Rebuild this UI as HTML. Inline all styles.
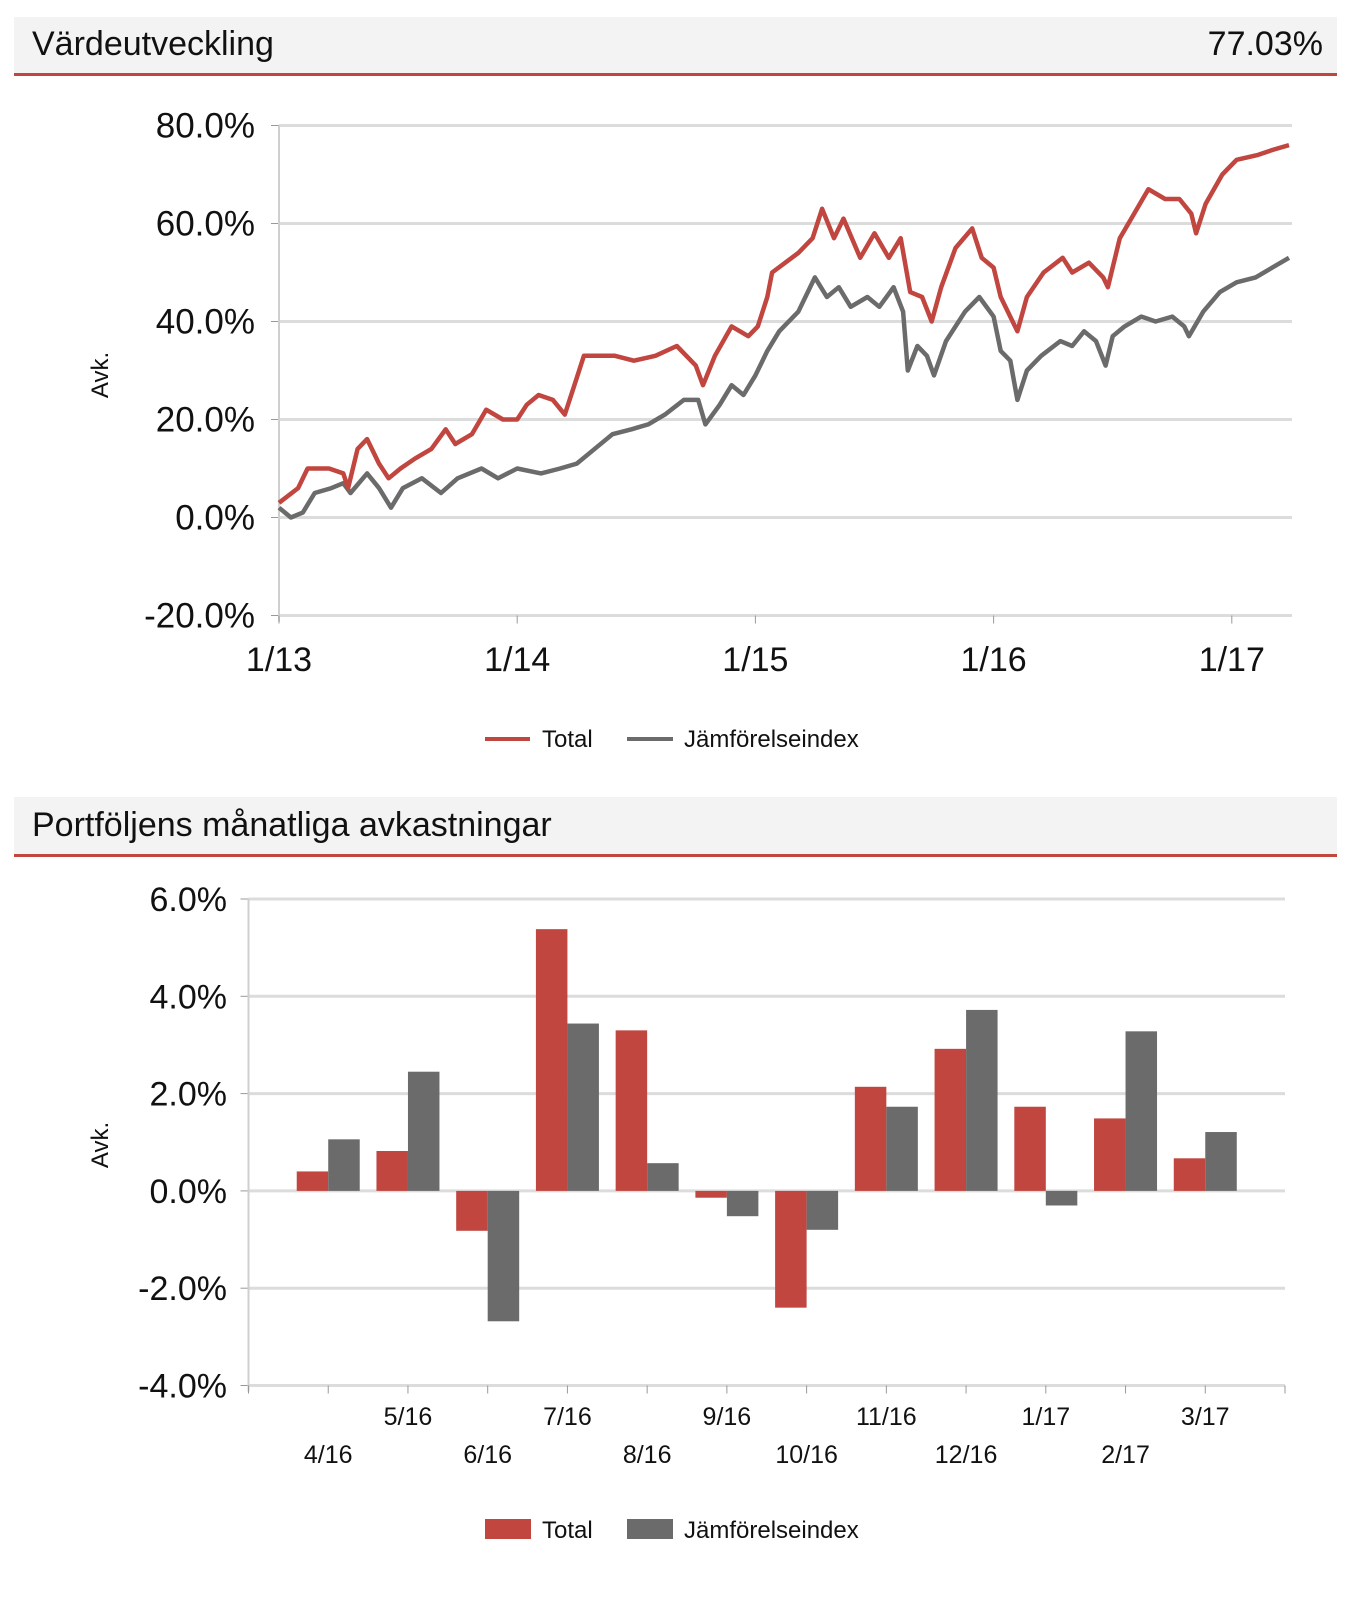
<!DOCTYPE html>
<html><head><meta charset="utf-8"><style>
html,body{margin:0;padding:0;background:#fff;}
svg{display:block;font-family:"Liberation Sans",sans-serif;}
</style></head><body>
<svg id="root" width="1346" height="1604" viewBox="0 0 1346 1604">
  <g>
    <rect x="14" y="17" width="1323" height="56" fill="#f3f3f3"/>
    <rect x="14" y="73" width="1323" height="3" fill="#c0463f"/>
    <text x="32" y="55" font-size="34" fill="#111">Värdeutveckling</text>
    <text x="1323" y="55" font-size="34" fill="#111" text-anchor="end">77.03%</text>
  </g>
  <g id="chart1"></g>
  <g>
    <rect x="14" y="797" width="1323" height="57" fill="#f3f3f3"/>
    <rect x="14" y="854" width="1323" height="3" fill="#c0463f"/>
    <text x="32" y="836" font-size="34" fill="#111">Portföljens månatliga avkastningar</text>
  </g>
  <g id="chart2"></g>
</svg>
<script>
const lineYTicks = [-20, 0, 20, 40, 60, 80];
const lineYTickLabels = ["-20.0%","0.0%","20.0%","40.0%","60.0%","80.0%"];
const lineXTicks = [2013, 2014, 2015, 2016, 2017];
const lineXTickLabels = ["1/13","1/14","1/15","1/16","1/17"];
const totalDates = [2013.0,2013.08,2013.12,2013.21,2013.27,2013.29,2013.33,2013.37,2013.42,2013.46,2013.51,2013.57,2013.64,2013.7,2013.74,2013.81,2013.87,2013.94,2014.0,2014.04,2014.09,2014.15,2014.2,2014.24,2014.28,2014.41,2014.49,2014.58,2014.67,2014.75,2014.78,2014.83,2014.9,2014.97,2015.01,2015.05,2015.07,2015.18,2015.24,2015.28,2015.33,2015.37,2015.44,2015.5,2015.56,2015.61,2015.65,2015.7,2015.74,2015.78,2015.84,2015.91,2015.95,2016.0,2016.03,2016.1,2016.14,2016.21,2016.29,2016.33,2016.4,2016.46,2016.48,2016.53,2016.59,2016.65,2016.72,2016.78,2016.83,2016.85,2016.89,2016.96,2017.02,2017.11,2017.17,2017.24];
const totalValues = [3,6,10,10,9,6,14,16,11,8,10,12,14,18,15,17,22,20,20,23,25,24,21,27,33,33,32,33,35,31,27,33,39,37,39,45,50,54,57,63,57,61,53,58,53,57,46,45,40,47,55,59,53,51,45,38,45,50,53,50,52,49,47,57,62,67,65,65,62,58,64,70,73,74,75,76];
const indexDates = [2013.0,2013.05,2013.1,2013.15,2013.22,2013.27,2013.3,2013.37,2013.42,2013.47,2013.52,2013.6,2013.68,2013.75,2013.85,2013.92,2014.0,2014.1,2014.18,2014.25,2014.3,2014.4,2014.48,2014.55,2014.62,2014.7,2014.76,2014.79,2014.85,2014.9,2014.95,2015.0,2015.05,2015.1,2015.18,2015.25,2015.3,2015.35,2015.4,2015.47,2015.52,2015.58,2015.62,2015.64,2015.68,2015.72,2015.75,2015.8,2015.88,2015.94,2016.0,2016.03,2016.07,2016.1,2016.14,2016.2,2016.28,2016.33,2016.38,2016.43,2016.47,2016.5,2016.55,2016.62,2016.68,2016.75,2016.8,2016.82,2016.88,2016.95,2017.02,2017.1,2017.17,2017.24];
const indexValues = [2,0,1,5,6,7,5,9,6,2,6,8,5,8,10,8,10,9,10,11,13,17,18,19,21,24,24,19,23,27,25,29,34,38,42,49,45,47,43,45,43,47,42,30,35,33,29,36,42,45,41,34,32,24,30,33,36,35,38,36,31,37,39,41,40,41,39,37,42,46,48,49,51,53];

const barCategories = ["4/16","5/16","6/16","7/16","8/16","9/16","10/16","11/16","12/16","1/17","2/17","3/17"];
const barTotal = [0.4,0.82,-0.82,5.38,3.3,-0.14,-2.4,2.14,2.92,1.73,1.49,0.67];
const barIndex = [1.06,2.45,-2.68,3.44,0.57,-0.52,-0.8,1.73,3.72,-0.3,3.28,1.21];
const barYTicks = [-4,-2,0,2,4,6];
const barYTickLabels = ["-4.0%","-2.0%","0.0%","2.0%","4.0%","6.0%"];

const NS = "http://www.w3.org/2000/svg";
function mk(parent, tag, attrs, txt){
  const e = document.createElementNS(NS, tag);
  for (const k in attrs) e.setAttribute(k, attrs[k]);
  if (txt !== undefined) e.textContent = txt;
  parent.appendChild(e);
  return e;
}
const RED = "#c0463f", GRAY = "#6b6b6b";

// ---- Chart 1 ----
(function(){
  const g = document.getElementById('chart1');
  const x0 = 279, x1 = 1292, yTop = 125.5, yBot = 615.5;
  const xs = t => x0 + (t - 2013) * 238.2;
  const ys = v => yBot - (v + 20) / 100 * (yBot - yTop);
  lineYTicks.forEach((v, i) => {
    const gl = mk(g, 'line', {x1: x0, x2: x1, y1: ys(v), y2: ys(v), stroke: '#dcdcdc', 'stroke-width': 3});
    
    
    mk(g, 'line', {x1: x0 - 8, x2: x0, y1: ys(v), y2: ys(v), stroke: '#999', 'stroke-width': 1});
    const t = mk(g, 'text', {x: 255, y: ys(v) + 12, 'font-size': 35, 'text-anchor': 'end', fill: '#111'}, lineYTickLabels[i]);
    
    
  });
  mk(g, 'line', {x1: x0, x2: x0, y1: yTop, y2: yBot + 6, stroke: '#cfcfcf', 'stroke-width': 2});
  lineXTicks.forEach((v, i) => {
    mk(g, 'line', {x1: xs(v), x2: xs(v), y1: yBot, y2: yBot + 8, stroke: '#999', 'stroke-width': 1});
    const t = mk(g, 'text', {x: xs(v), y: 671, 'font-size': 34, 'text-anchor': 'middle', fill: '#111'}, lineXTickLabels[i]);
    
    
  });
  const yl = mk(g, 'text', {x: 0, y: 0, 'font-size': 24, 'text-anchor': 'middle', fill: '#111', transform: 'translate(108,375) rotate(-90)'}, 'Avk.');
  
  
  function drawLine(dates, vals, color, name){
    const d = dates.map((t, i) => (i ? 'L' : 'M') + xs(t).toFixed(1) + ',' + ys(vals[i]).toFixed(1)).join(' ');
    const p = mk(g, 'path', {d: d, fill: 'none', stroke: color, 'stroke-width': 4.5, 'stroke-linejoin': 'round'});
    
    
  }
  drawLine(indexDates, indexValues, GRAY, 'index-line');
  drawLine(totalDates, totalValues, RED, 'total-line');
  const lg = mk(g, 'g', {});
  
  
  mk(lg, 'line', {x1: 485, x2: 530, y1: 739, y2: 739, stroke: RED, 'stroke-width': 4});
  const a = mk(lg, 'text', {x: 542, y: 747, 'font-size': 24, fill: '#111'}, 'Total');
  
  
  mk(lg, 'line', {x1: 627, x2: 673, y1: 739, y2: 739, stroke: GRAY, 'stroke-width': 4});
  const b = mk(lg, 'text', {x: 684, y: 747, 'font-size': 24, fill: '#111'}, 'Jämförelseindex');
  
  
})();

// ---- Chart 2 ----
(function(){
  const g = document.getElementById('chart2');
  const x0 = 248.5, x1 = 1285, yTop = 899, yBot = 1385.5;
  const slot = (x1 - x0) / 13;
  const ys = v => yBot - (v + 4) / 10 * (yBot - yTop);
  const cx = i => x0 + slot * (i + 1);
  barYTicks.forEach((v, i) => {
    const gl = mk(g, 'line', {x1: x0, x2: x1, y1: ys(v), y2: ys(v), stroke: '#dcdcdc', 'stroke-width': 3});
    
    
    mk(g, 'line', {x1: x0 - 8, x2: x0, y1: ys(v), y2: ys(v), stroke: '#999', 'stroke-width': 1});
    const t = mk(g, 'text', {x: 227, y: ys(v) + 12, 'font-size': 34, 'text-anchor': 'end', fill: '#111'}, barYTickLabels[i]);
    
    
  });
  mk(g, 'line', {x1: x0, x2: x0, y1: yTop, y2: yBot + 6, stroke: '#cfcfcf', 'stroke-width': 2});
  for (let k = 0; k <= 13; k++) {
    mk(g, 'line', {x1: x0 + slot * k, x2: x0 + slot * k, y1: yBot, y2: yBot + 8, stroke: '#999', 'stroke-width': 1});
  }
  const bw = 31.5;
  barCategories.forEach((c, i) => {
    const r = mk(g, 'rect', {x: cx(i) - bw, y: Math.min(ys(0), ys(barTotal[i])), width: bw, height: Math.abs(ys(barTotal[i]) - ys(0)), fill: RED});
    
    
    const q = mk(g, 'rect', {x: cx(i), y: Math.min(ys(0), ys(barIndex[i])), width: bw, height: Math.abs(ys(barIndex[i]) - ys(0)), fill: GRAY});
    
    
    const t = mk(g, 'text', {x: cx(i), y: (i % 2 ? 1425 : 1463), 'font-size': 25, 'text-anchor': 'middle', fill: '#111'}, c);
    
    
  });
  const yl = mk(g, 'text', {x: 0, y: 0, 'font-size': 24, 'text-anchor': 'middle', fill: '#111', transform: 'translate(108,1145) rotate(-90)'}, 'Avk.');
  
  
  const lg = mk(g, 'g', {});
  
  
  mk(lg, 'rect', {x: 485, y: 1519, width: 46, height: 20, fill: RED});
  const a = mk(lg, 'text', {x: 542, y: 1538, 'font-size': 24, fill: '#111'}, 'Total');
  
  
  mk(lg, 'rect', {x: 627, y: 1519, width: 46, height: 20, fill: GRAY});
  const b = mk(lg, 'text', {x: 684, y: 1538, 'font-size': 24, fill: '#111'}, 'Jämförelseindex');
  
  
})();
</script>
</body></html>
